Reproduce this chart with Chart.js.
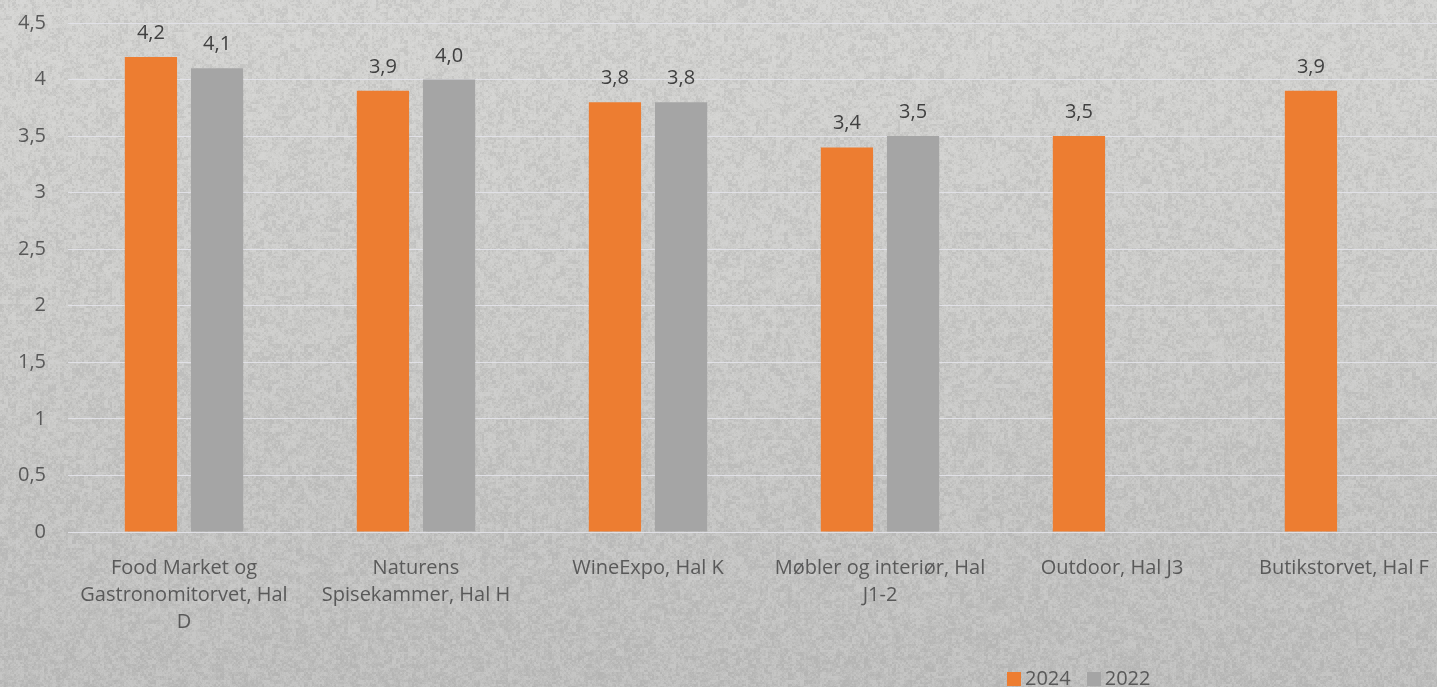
<!DOCTYPE html>
<html>
<head>
<meta charset="utf-8">
<script src="https://cdn.jsdelivr.net/npm/chart.js@4.4.1/dist/chart.umd.min.js"></script>
<style>
  html, body { margin: 0; padding: 0; width: 1437px; height: 687px; overflow: hidden; }
  body {
    position: relative;
    background: linear-gradient(#d3d3d1, #cbcbc9 45%, #bdbdbc);
  }
  #bg { position: absolute; left: 0; top: 0; width: 1437px; height: 687px; }
  #wrap { position: absolute; left: 0; top: -11px; width: 1460px; height: 698px; }
  #legend {
    position: absolute; left: 1007px; top: 667px;
    font-family: "Open Sans", sans-serif; font-size: 20px; color: #595959;
    display: flex; gap: 16px; line-height: 22px;
  }
  #legend span.box { display: inline-block; width: 14px; height: 14px; margin-right: 4px; vertical-align: -1px; }
</style>
</head>
<body>
<canvas id="bg" width="1437" height="687"></canvas>
<div id="wrap"><canvas id="bar-chart" width="1460" height="698"></canvas></div>
<div id="legend"></div>
<script>
// data
const categories = [
  ['Food Market og', 'Gastronomitorvet, Hal', 'D'],
  ['Naturens', 'Spisekammer, Hal H'],
  'WineExpo, Hal K',
  ['Møbler og interiør, Hal', 'J1-2'],
  'Outdoor, Hal J3',
  'Butikstorvet, Hal F'
];
const values2024 = [4.2, 3.9, 3.8, 3.4, 3.5, 3.9];
const values2022 = [4.1, 4.0, 3.8, 3.5, null, null];
const seriesNames = ['2024', '2022'];
const seriesColors = ['#ED7D31', '#A5A5A5'];

const fontFamily = '"Open Sans", sans-serif';
const fmt = v => v.toFixed(1).replace('.', ',');

// stone-like texture for the backdrop (deterministic hash, decoration only)
(function paintTexture() {
  const c = document.getElementById('bg');
  const ctx = c.getContext('2d');
  const img = ctx.createImageData(c.width, c.height);
  const hash = (x, y, s) => {
    let h = Math.imul(x, 374761393) ^ Math.imul(y, 668265263) ^ Math.imul(s, 2246822519);
    h = Math.imul(h ^ (h >>> 13), 1274126177);
    return ((h ^ (h >>> 16)) >>> 0) / 4294967295;
  };
  for (let y = 0; y < c.height; y++) {
    for (let x = 0; x < c.width; x++) {
      const n = hash(x, y, 1) * 0.2 + hash(x >> 1, y >> 1, 2) * 0.35 +
                hash(x >> 2, y >> 2, 3) * 0.3 + hash(x >> 3, y >> 3, 4) * 0.15;
      const i = (y * c.width + x) * 4;
      const v = n > 0.5 ? 240 : 140;
      img.data[i] = v; img.data[i + 1] = v; img.data[i + 2] = v;
      img.data[i + 3] = Math.min(45, Math.round(Math.abs(n - 0.5) * 200));
    }
  }
  ctx.putImageData(img, 0, 0);
})();

// value labels above bars
const valueLabels = {
  id: 'valueLabels',
  afterDatasetsDraw(chart) {
    const ctx = chart.ctx;
    ctx.save();
    ctx.font = '20px ' + fontFamily;
    ctx.fillStyle = '#404040';
    ctx.textAlign = 'center';
    ctx.textBaseline = 'alphabetic';
    chart.data.datasets.forEach((ds, i) => {
      chart.getDatasetMeta(i).data.forEach((bar, j) => {
        if (ds.data[j] == null) return;
        ctx.fillText(fmt(ds.data[j]), bar.x, bar.y - 18);
      });
    });
    ctx.restore();
  }
};

new Chart(
  document.getElementById('bar-chart'),
  {
    type: 'bar',
    data: {
      labels: categories,
      datasets: [
        { label: seriesNames[0], data: values2024, backgroundColor: seriesColors[0] },
        { label: seriesNames[1], data: values2022, backgroundColor: seriesColors[1] }
      ]
    },
    options: {
      responsive: false,
      animation: false,
      categoryPercentage: 0.57,
      barPercentage: 0.79,
      layout: { padding: { top: 9, bottom: 0, right: 0, left: 0 } },
      plugins: {
        legend: { display: false },
        tooltip: { enabled: false }
      },
      scales: {
        y: {
          min: 0,
          max: 4.5,
          ticks: {
            stepSize: 0.5,
            padding: 22,
            color: '#595959',
            font: { family: fontFamily, size: 20 },
            callback: v => String(v).replace('.', ',')
          },
          grid: { color: 'rgba(226,226,232,0.95)', drawTicks: false },
          border: { display: false },
          afterFit: s => { s.width = 68; }
        },
        x: {
          grid: { display: false, drawTicks: false },
          border: { display: false },
          ticks: {
            color: '#595959',
            padding: 23,
            maxRotation: 0,
            autoSkip: false,
            font: { family: fontFamily, size: 20, lineHeight: 1.35 }
          },
          afterFit: s => { s.height = 155; }
        }
      }
    },
    plugins: [valueLabels]
  }
);

// legend
const legend = document.getElementById('legend');
seriesNames.forEach((name, i) => {
  const item = document.createElement('div');
  item.innerHTML = '<span class="box" style="background:' + seriesColors[i] + '"></span>' + name;
  legend.appendChild(item);
});
</script>
</body>
</html>
